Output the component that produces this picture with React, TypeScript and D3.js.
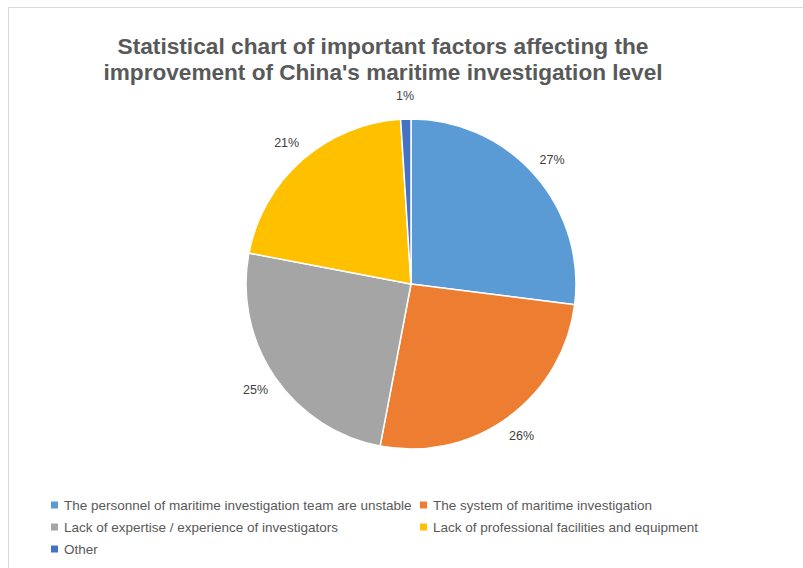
import React from "react";
import * as d3 from "d3";

const titleLines = [
  "Statistical chart of important factors affecting the",
  "improvement of China's maritime investigation level",
];
const categories = [
  "The personnel of maritime investigation team are unstable",
  "The system of maritime investigation",
  "Lack of expertise / experience of investigators",
  "Lack of professional facilities and equipment",
  "Other",
];
const values = [27, 26, 25, 21, 1];
const colors = ["#5B9BD5", "#ED7D31", "#A5A5A5", "#FFC000", "#4472C4"];

const W = 803;
const H = 568;
const cx = 411;
const cy = 284;
const R = 165;
const labelR = 188;

export default function App() {
  const pie = d3.pie<number>().sort(null).value((d) => d)(values);
  const arc = d3.arc<d3.PieArcDatum<number>>().innerRadius(0).outerRadius(R);
  const total = d3.sum(values);
  const fmt = (v: number) => `${Math.round((v / total) * 100)}%`;

  const legendRows = [505, 527, 549];
  const legendCols = [51, 420];
  const legendPos = categories.map((_, i) => ({
    x: legendCols[i % 2],
    y: legendRows[Math.floor(i / 2)],
  }));

  return (
    <div style={{ position: "absolute", left: 0, top: 0 }}>
      <svg width={W} height={H} style={{ display: "block", fontFamily: "'Liberation Sans', Arial, sans-serif" }}>
        <rect x={0} y={0} width={W} height={H} fill="#fff" />
        <rect x={8.5} y={7.5} width={W + 10} height={H + 10} fill="#fff" stroke="#d9d9d9" strokeWidth={1} />
        {titleLines.map((t, i) => (
          <text
            key={i}
            x={383}
            y={54 + i * 26}
            textAnchor="middle"
            fontSize={22}
            fontWeight="bold"
            fill="#595959"
            textLength={i === 0 ? 531 : 559}
            lengthAdjust="spacingAndGlyphs"
          >
            {t}
          </text>
        ))}
        <g transform={`translate(${cx},${cy})`}>
          {pie.map((p, i) => (
            <path key={i} d={arc(p) || ""} fill={colors[i]} stroke="#fff" strokeWidth={1.5} />
          ))}
          {pie.map((p, i) => {
            const a = (p.startAngle + p.endAngle) / 2;
            const x = Math.sin(a) * labelR;
            const y = -Math.cos(a) * labelR;
            return (
              <text
                key={i}
                x={x}
                y={y}
                textAnchor="middle"
                dominantBaseline="central"
                fontSize={12.5}
                fill="#404040"
              >
                {fmt(p.data)}
              </text>
            );
          })}
        </g>
        {categories.map((c, i) => (
          <g key={i} transform={`translate(${legendPos[i].x},${legendPos[i].y})`}>
            <rect x={0} y={-3.5} width={7} height={7} fill={colors[i]} />
            <text x={13} y={0} dominantBaseline="central" fontSize={13.5} fill="#595959">
              {c}
            </text>
          </g>
        ))}
      </svg>
    </div>
  );
}
